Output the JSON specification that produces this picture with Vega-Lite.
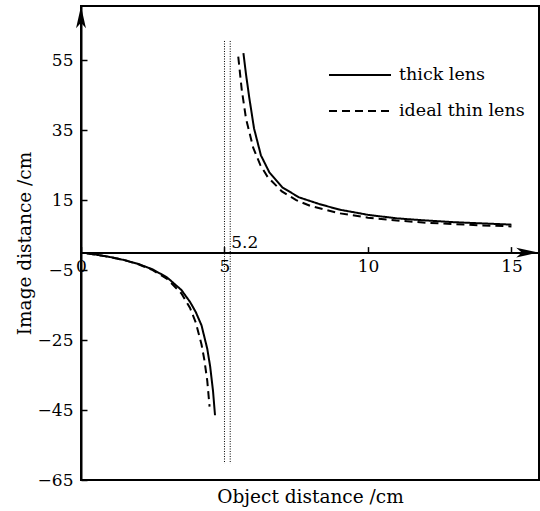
{
  "$schema": "https://vega.github.io/schema/vega-lite/v6.json",
  "width": 458,
  "height": 474,
  "autosize": {"type": "none"},
  "padding": {"left": 81, "top": 6, "right": 1, "bottom": 31},
  "background": "white",
  "config": {
    "view": {"stroke": "black", "strokeWidth": 2},
    "font": "DejaVu Serif",
    "axis": {
      "labelFont": "DejaVu Serif", "titleFont": "DejaVu Serif",
      "labelFontSize": 17, "titleFontSize": 18.5, "titleFontWeight": "normal",
      "labelColor": "black", "titleColor": "black", "tickColor": "black",
      "domainColor": "black", "grid": false
    }
  },
  "layer": [
    {
      "data": {"values": [
        {"s": "thick lens", "b": "L", "x": 0.2, "y": -0.21},
        {"s": "thick lens", "b": "L", "x": 0.5, "y": -0.55},
        {"s": "thick lens", "b": "L", "x": 1.0, "y": -1.24},
        {"s": "thick lens", "b": "L", "x": 1.5, "y": -2.11},
        {"s": "thick lens", "b": "L", "x": 2.0, "y": -3.25},
        {"s": "thick lens", "b": "L", "x": 2.5, "y": -4.8},
        {"s": "thick lens", "b": "L", "x": 3.0, "y": -7.1},
        {"s": "thick lens", "b": "L", "x": 3.5, "y": -10.7},
        {"s": "thick lens", "b": "L", "x": 3.8, "y": -14.1},
        {"s": "thick lens", "b": "L", "x": 4.0, "y": -17.0},
        {"s": "thick lens", "b": "L", "x": 4.2, "y": -20.8},
        {"s": "thick lens", "b": "L", "x": 4.4, "y": -27.5},
        {"s": "thick lens", "b": "L", "x": 4.5, "y": -32.5},
        {"s": "thick lens", "b": "L", "x": 4.6, "y": -39.5},
        {"s": "thick lens", "b": "L", "x": 4.67, "y": -46.5},
        {"s": "thick lens", "b": "R", "x": 5.66, "y": 57.0},
        {"s": "thick lens", "b": "R", "x": 5.75, "y": 51.0},
        {"s": "thick lens", "b": "R", "x": 5.86, "y": 44.5},
        {"s": "thick lens", "b": "R", "x": 6.03, "y": 35.5},
        {"s": "thick lens", "b": "R", "x": 6.27, "y": 27.8},
        {"s": "thick lens", "b": "R", "x": 6.56, "y": 23.0},
        {"s": "thick lens", "b": "R", "x": 7.02, "y": 18.6},
        {"s": "thick lens", "b": "R", "x": 7.6, "y": 15.8},
        {"s": "thick lens", "b": "R", "x": 8.3, "y": 13.9},
        {"s": "thick lens", "b": "R", "x": 9.0, "y": 12.3},
        {"s": "thick lens", "b": "R", "x": 10.0, "y": 10.8},
        {"s": "thick lens", "b": "R", "x": 11.0, "y": 9.8},
        {"s": "thick lens", "b": "R", "x": 12.0, "y": 9.2},
        {"s": "thick lens", "b": "R", "x": 13.0, "y": 8.7},
        {"s": "thick lens", "b": "R", "x": 14.0, "y": 8.35},
        {"s": "thick lens", "b": "R", "x": 15.0, "y": 8.0},
        {"s": "ideal thin lens", "b": "L", "x": 0.2, "y": -0.21},
        {"s": "ideal thin lens", "b": "L", "x": 0.5, "y": -0.56},
        {"s": "ideal thin lens", "b": "L", "x": 1.0, "y": -1.25},
        {"s": "ideal thin lens", "b": "L", "x": 1.5, "y": -2.14},
        {"s": "ideal thin lens", "b": "L", "x": 2.0, "y": -3.33},
        {"s": "ideal thin lens", "b": "L", "x": 2.5, "y": -5.0},
        {"s": "ideal thin lens", "b": "L", "x": 3.0, "y": -7.5},
        {"s": "ideal thin lens", "b": "L", "x": 3.5, "y": -11.67},
        {"s": "ideal thin lens", "b": "L", "x": 3.8, "y": -15.83},
        {"s": "ideal thin lens", "b": "L", "x": 4.0, "y": -20.0},
        {"s": "ideal thin lens", "b": "L", "x": 4.2, "y": -26.25},
        {"s": "ideal thin lens", "b": "L", "x": 4.3, "y": -30.71},
        {"s": "ideal thin lens", "b": "L", "x": 4.4, "y": -36.67},
        {"s": "ideal thin lens", "b": "L", "x": 4.48, "y": -44.0},
        {"s": "ideal thin lens", "b": "R", "x": 5.48, "y": 56.0},
        {"s": "ideal thin lens", "b": "R", "x": 5.6, "y": 46.67},
        {"s": "ideal thin lens", "b": "R", "x": 5.75, "y": 38.33},
        {"s": "ideal thin lens", "b": "R", "x": 6.0, "y": 30.0},
        {"s": "ideal thin lens", "b": "R", "x": 6.25, "y": 25.0},
        {"s": "ideal thin lens", "b": "R", "x": 6.5, "y": 21.67},
        {"s": "ideal thin lens", "b": "R", "x": 7.0, "y": 17.5},
        {"s": "ideal thin lens", "b": "R", "x": 7.5, "y": 15.0},
        {"s": "ideal thin lens", "b": "R", "x": 8.0, "y": 13.33},
        {"s": "ideal thin lens", "b": "R", "x": 9.0, "y": 11.25},
        {"s": "ideal thin lens", "b": "R", "x": 10.0, "y": 10.0},
        {"s": "ideal thin lens", "b": "R", "x": 11.0, "y": 9.17},
        {"s": "ideal thin lens", "b": "R", "x": 12.0, "y": 8.57},
        {"s": "ideal thin lens", "b": "R", "x": 13.0, "y": 8.13},
        {"s": "ideal thin lens", "b": "R", "x": 14.0, "y": 7.78},
        {"s": "ideal thin lens", "b": "R", "x": 15.0, "y": 7.5}
      ]},
      "mark": {"type": "line", "color": "black", "strokeWidth": 2},
      "encoding": {
        "x": {"field": "x", "type": "quantitative",
          "scale": {"domain": [0, 15.96], "nice": false, "zero": false},
          "axis": {"orient": "bottom", "offset": -227.4, "values": [0, 5, 10, 15],
            "tickSize": -6, "tickWidth": 1.5, "domainWidth": 2, "labelPadding": 12,
            "labelFlush": false, "labelOverlap": false,
            "title": "Object distance /cm", "titleY": 250, "titleBaseline": "alphabetic"}},
        "y": {"field": "y", "type": "quantitative",
          "scale": {"domain": [-65, 70.5], "nice": false, "zero": false},
          "axis": {"values": [-65, -45, -25, -5, 15, 35, 55], "tickSize": -6, "tickWidth": 1.5,
            "domainWidth": 2, "labelPadding": 14, "labelFlush": false, "labelOverlap": false,
            "title": "Image distance /cm", "titleX": -51, "titleBaseline": "alphabetic"}},
        "strokeDash": {"field": "s", "type": "nominal",
          "scale": {"domain": ["thick lens", "ideal thin lens"], "range": [[1, 0], [8, 5]]},
          "legend": {"orient": "none", "legendX": 247, "legendY": 59, "title": null,
            "symbolType": "stroke", "symbolSize": 3844, "symbolStrokeWidth": 2,
            "symbolStrokeColor": "black", "clipHeight": 20, "rowPadding": 16,
            "labelOffset": 7, "labelFontSize": 17.5, "labelFont": "DejaVu Serif",
            "labelColor": "black", "padding": 0}},
        "detail": {"field": "b", "type": "nominal"}
      }
    },
    {
      "data": {"values": [
        {"x": 5.0, "y": 60.5, "y2": -60.3},
        {"x": 5.2, "y": 60.5, "y2": -60.3}
      ]},
      "mark": {"type": "rule", "color": "black", "strokeWidth": 1, "strokeDash": [1, 1.5]},
      "encoding": {
        "x": {"field": "x", "type": "quantitative"},
        "y": {"field": "y", "type": "quantitative"},
        "y2": {"field": "y2"}
      }
    },
    {
      "data": {"values": [{"x": 5.2, "y": 0, "label": "5.2"}]},
      "mark": {"type": "text", "align": "left", "baseline": "alphabetic", "dx": 1, "dy": -5,
        "font": "DejaVu Serif", "fontSize": 17, "color": "black"},
      "encoding": {
        "x": {"field": "x", "type": "quantitative"},
        "y": {"field": "y", "type": "quantitative"},
        "text": {"field": "label"}
      }
    },
    {
      "data": {"values": [{"x": 15.55, "y": 0}]},
      "mark": {"type": "point", "shape": "M 1 0 L -1 -0.45 L -0.5 0 L -1 0.45 Z",
        "size": 484, "filled": true, "color": "black", "opacity": 1},
      "encoding": {
        "x": {"field": "x", "type": "quantitative"},
        "y": {"field": "y", "type": "quantitative"}
      }
    },
    {
      "data": {"values": [{"x": 0, "y": 67.3}]},
      "mark": {"type": "point", "shape": "M 0 -1 L -0.45 1 L 0 0.5 L 0.45 1 Z",
        "size": 484, "filled": true, "color": "black", "opacity": 1},
      "encoding": {
        "x": {"field": "x", "type": "quantitative"},
        "y": {"field": "y", "type": "quantitative"}
      }
    }
  ]
}
